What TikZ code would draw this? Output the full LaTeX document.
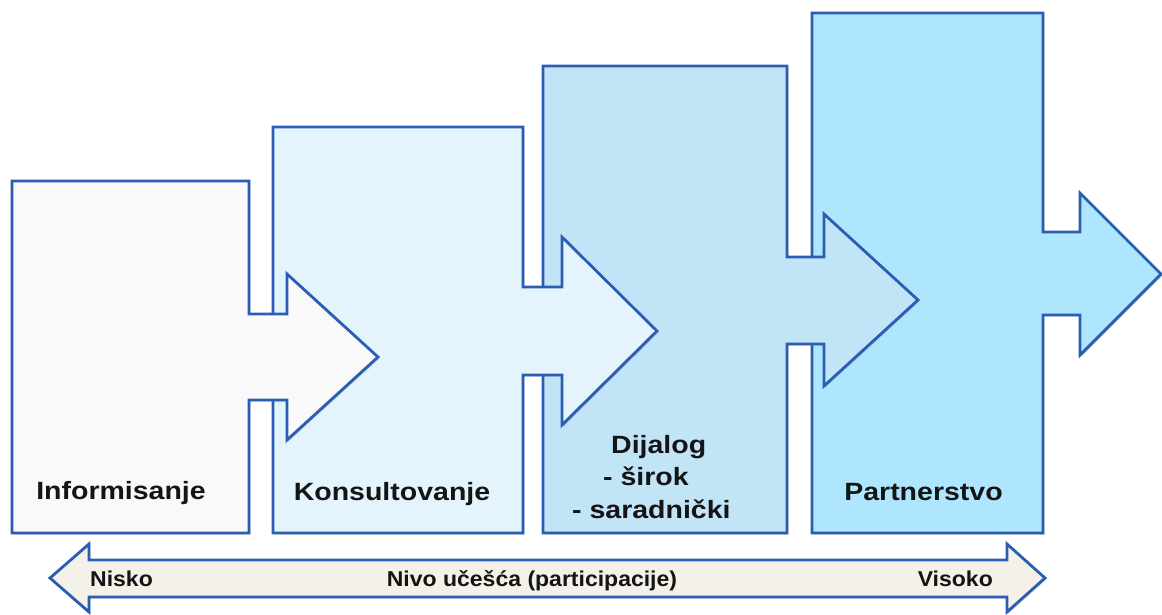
\documentclass[tikz,border=0pt]{standalone}
\usepackage{fontspec}
\usepackage{graphicx}
\setmainfont{Liberation Sans}
\usetikzlibrary{shadows}
\definecolor{edgeblue}{HTML}{2A5DB3}
\definecolor{fillA}{HTML}{F9F9F9}
\definecolor{fillB}{HTML}{E3F4FD}
\definecolor{fillC}{HTML}{C1E4F7}
\definecolor{fillD}{HTML}{AEE6FD}
\definecolor{fillE}{HTML}{F4F2E8}
\definecolor{txt}{HTML}{141414}
\newcommand\wideA[1]{\scalebox{1.14}[1]{#1}}
\newcommand\wideB[1]{\scalebox{1.07}[1]{#1}}
\begin{document}
\begin{tikzpicture}[x=1pt,y=-1pt,
  blockshape/.style={draw=edgeblue, line width=2.8pt, line join=miter,
    drop shadow={shadow xshift=1.5pt, shadow yshift=-1.5pt, opacity=0.3}},
  biglabel/.style={font=\fontsize{25}{30}\selectfont\bfseries, text=txt, inner sep=0pt},
  smalllabel/.style={font=\fontsize{21.5}{26}\selectfont\bfseries, text=txt, inner sep=0pt}]
\useasboundingbox (0,0) rectangle (1162,614);
% block 4 (back)
\path[blockshape, fill=fillD] (812,13) -- (1043,13) -- (1043,232) -- (1080,232) -- (1080,193)
  -- (1161,274) -- (1080,355) -- (1080,315) -- (1043,315) -- (1043,533) -- (812,533) -- cycle;
% block 3
\path[blockshape, fill=fillC] (543,66) -- (787,66) -- (787,257) -- (824,257) -- (824,214)
  -- (918,300) -- (824,386) -- (824,344) -- (787,344) -- (787,533) -- (543,533) -- cycle;
% block 2
\path[blockshape, fill=fillB] (273,127) -- (523,127) -- (523,287) -- (562,287) -- (562,237)
  -- (657,331) -- (562,425) -- (562,375) -- (523,375) -- (523,533) -- (273,533) -- cycle;
% block 1 (front)
\path[blockshape, fill=fillA] (12,181) -- (249,181) -- (249,314) -- (287,314) -- (287,274)
  -- (378,357) -- (287,440) -- (287,400) -- (249,400) -- (249,533) -- (12,533) -- cycle;
% bottom double arrow
\path[blockshape, fill=fillE] (50,578) -- (89,544) -- (89,560) -- (1007,560) -- (1007,544)
  -- (1045,578) -- (1007,612) -- (1007,597) -- (89,597) -- (89,612) -- cycle;
% labels
\node[biglabel, anchor=base] (inf) at (121,499) {\wideA{Informisanje}};
\node[biglabel, anchor=base] (kon) at (392,500) {\wideA{Konsultovanje}};
\node[biglabel, anchor=base west] (dija) at (611,453) {\wideA{Dijalog}};
\node[biglabel, anchor=base west] (dijb) at (603,485) {\wideA{- širok}};
\node[biglabel, anchor=base west] (dijc) at (572,518) {\wideA{- saradnički}};
\node[biglabel, anchor=base] (par) at (923.5,500) {\wideA{Partnerstvo}};
\node[smalllabel, anchor=base west] (nis) at (90,586) {\wideB{Nisko}};
\node[smalllabel, anchor=base] (nivo) at (532,586) {\wideB{Nivo učešća (participacije)}};
\node[smalllabel, anchor=base east] (vis) at (993,586) {\wideB{Visoko}};
\end{tikzpicture}
\end{document}
